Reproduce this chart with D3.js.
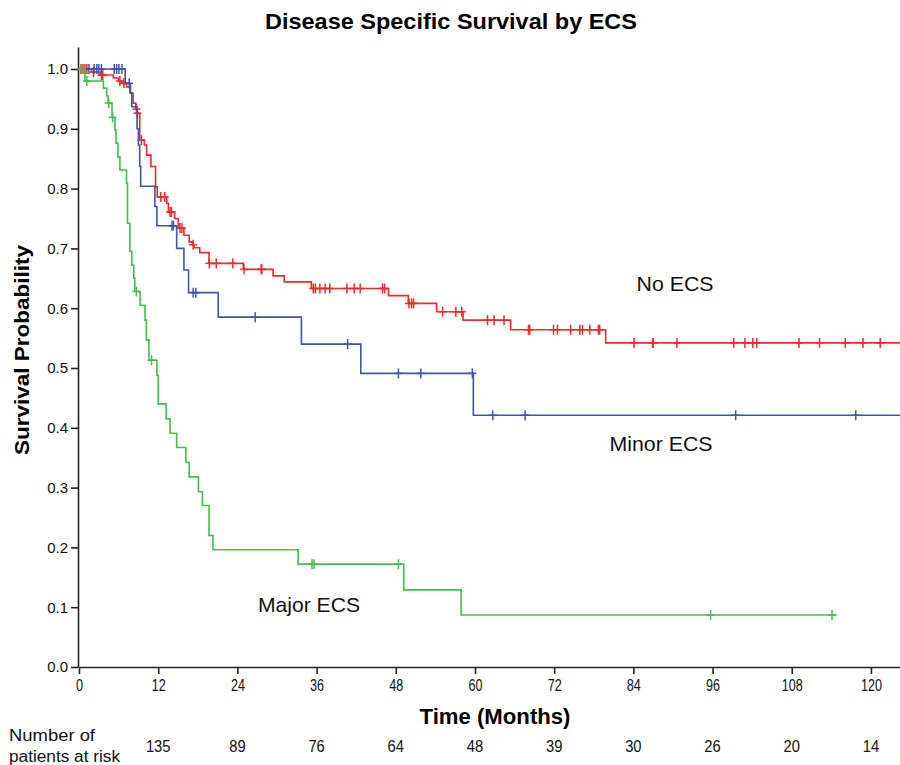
<!DOCTYPE html>
<html><head><meta charset="utf-8">
<script src="https://cdn.jsdelivr.net/npm/d3@7"></script>
<style>body{margin:0;background:#fff}</style>
</head><body><svg id="c" width="900" height="765"></svg>
<script>
const title = "Disease Specific Survival by ECS";
const xTicks = [0,12,24,36,48,60,72,84,96,108,120];
const yTicks = [0,0.1,0.2,0.3,0.4,0.5,0.6,0.7,0.8,0.9,1.0];
const riskTimes = [12,24,36,48,60,72,84,96,108,120];
const atRisk = [135,89,76,64,48,39,30,26,20,14];
const groupNames = ["No ECS","Minor ECS","Major ECS"];

// [time, survival after the event]
const noEcsSteps = [[0,1],[1.9,0.995],[3.3,0.99],[5.2,0.985],[6.0,0.98],[6.5,0.976],[7.2,0.97],[7.7,0.96],[8.2,0.943],[8.6,0.933],[8.8,0.926],[9.2,0.881],[9.9,0.873],[10.25,0.856],[10.9,0.837],[11.6,0.803],[11.85,0.786],[13.3,0.775],[13.55,0.761],[14.5,0.75],[15.05,0.734],[15.9,0.722],[16.7,0.711],[17.2,0.706],[17.4,0.701],[18.3,0.693],[19.7,0.675],[24.9,0.665],[29.4,0.654],[31.1,0.644],[35.2,0.633],[46.9,0.621],[49.9,0.608],[54.2,0.594],[58.2,0.58],[65.4,0.564],[79.8,0.542]];
const noEcsCensor = [0.3,0.6,0.9,1.2,2.2,3.4,3.6,6.2,6.8,8.7,8.85,9.45,12.4,13.0,13.8,14.0,15.3,15.6,17.3,19.75,20.8,23.3,25.0,27.6,27.7,35.5,35.8,36.5,37.3,38.0,40.6,41.7,42.6,46.0,46.3,50.0,50.4,50.7,55.1,57.1,58.0,61.9,62.9,64.4,68.1,68.3,71.9,72.5,74.5,75.9,76.3,77.4,78.7,78.9,84.1,86.9,87.0,90.6,99.2,100.9,102.1,102.7,109.1,112.2,116.1,118.8,121.4];
const noEcsEnd = 124.4;

const minorSteps = [[0,1],[7.0,0.976],[7.8,0.96],[8.0,0.937],[8.8,0.9],[9.0,0.873],[9.2,0.837],[9.35,0.804],[11.5,0.77],[11.8,0.738],[14.8,0.70],[15.9,0.664],[16.6,0.626],[21.1,0.585],[33.7,0.54],[42.7,0.491],[59.75,0.421]];
const minorCensor = [1.5,2.3,2.7,3.0,3.4,5.35,5.7,6.05,6.5,7.6,14.1,14.3,17.3,17.7,26.7,40.7,48.4,51.8,59.6,62.7,67.6,99.5,117.7];
const minorEnd = 124.4;

const majorSteps = [[0,1],[0.9,0.98],[3.7,0.968],[4.2,0.955],[4.4,0.943],[5.0,0.919],[5.45,0.898],[5.6,0.876],[5.9,0.853],[6.2,0.831],[7.2,0.809],[7.35,0.742],[7.7,0.695],[8.0,0.672],[8.3,0.65],[8.45,0.628],[9.25,0.605],[10.0,0.58],[10.2,0.547],[10.6,0.513],[11.8,0.488],[12.0,0.44],[13.2,0.415],[13.8,0.391],[14.8,0.367],[16.2,0.342],[16.7,0.318],[18.1,0.293],[18.7,0.27],[19.7,0.22],[20.3,0.196],[33.2,0.172],[49.2,0.129],[57.9,0.087]];
const majorCensor = [0.4,1.2,4.5,5.1,8.7,11.0,35.3,35.6,48.4,95.7,114.1];
const majorEnd = 114.8;

const colors = ["#f02a2a","#3d56a8","#3fc04f"];

const svg = d3.select("#c");
const x = d3.scaleLinear().domain([0,124.4]).range([79,900]);
const y = d3.scaleLinear().domain([0,1.0368]).range([667,47]);

const sans = "'Liberation Sans',Arial,sans-serif";

svg.append("text").attr("x",451).attr("y",29).attr("text-anchor","middle")
  .attr("font-family",sans).attr("font-weight","bold").attr("font-size",22)
  .attr("textLength",372).attr("lengthAdjust","spacingAndGlyphs").text(title);

const series = [
  {steps:noEcsSteps, censor:noEcsCensor, end:noEcsEnd, color:colors[0]},
  {steps:minorSteps, censor:minorCensor, end:minorEnd, color:colors[1]},
  {steps:majorSteps, censor:majorCensor, end:majorEnd, color:colors[2]}
];

function survAt(steps,t){let s=1;for(const [tt,v] of steps){if(tt<=t)s=v;}return s;}

const line = d3.line().x(d=>x(d[0])).y(d=>y(d[1])).curve(d3.curveStepAfter);

// axes
const xAxis = d3.axisBottom(x).tickValues(xTicks).tickSize(7).tickSizeOuter(0).tickFormat(d3.format("d"));
const gx = svg.append("g").attr("transform","translate(0,667)").call(xAxis);
gx.selectAll("text").attr("font-family",sans).attr("font-size",17).attr("fill","#111").attr("dy","0.85em")
  .attr("textLength",d=>String(d).length*7).attr("lengthAdjust","spacingAndGlyphs");
gx.select(".domain").attr("stroke","#222").attr("stroke-width",1.6);
gx.selectAll(".tick line").attr("stroke","#222").attr("stroke-width",1.6);

const yAxis = d3.axisLeft(y).tickValues(yTicks).tickSize(7).tickSizeOuter(0).tickFormat(d3.format(".1f"));
const gy = svg.append("g").attr("transform","translate(78,0)").call(yAxis);
gy.selectAll("text").attr("font-family",sans).attr("font-size",15).attr("fill","#111");
gy.select(".domain").attr("stroke","#222").attr("stroke-width",1.6);
gy.selectAll(".tick line").attr("stroke","#222").attr("stroke-width",1.6);

series.forEach(s=>{
  const pts = s.steps.concat([[s.end, s.steps[s.steps.length-1][1]]]);
  svg.append("path").attr("d",line(pts)).attr("fill","none").attr("stroke",s.color).attr("stroke-width",1.6);
  const g = svg.append("g").attr("stroke",s.color).attr("stroke-width",1.5);
  s.censor.forEach(t=>{
    const cx = x(t), cy = y(survAt(s.steps,t));
    g.append("line").attr("x1",cx).attr("x2",cx).attr("y1",cy-5).attr("y2",cy+5);
    g.append("line").attr("x1",cx-4).attr("x2",cx+4).attr("y1",cy).attr("y2",cy);
  });
});

// group labels
const lab = [
  {t:groupNames[0], x:675, y:291, w:77},
  {t:groupNames[1], x:661, y:451, w:103},
  {t:groupNames[2], x:309, y:612, w:102}
];
lab.forEach(l=>svg.append("text").attr("x",l.x).attr("y",l.y).attr("text-anchor","middle")
  .attr("font-family",sans).attr("font-size",21).attr("fill","#111")
  .attr("textLength",l.w).attr("lengthAdjust","spacingAndGlyphs").text(l.t));

// axis titles
svg.append("text").attr("transform","translate(29,350) rotate(-90)").attr("text-anchor","middle")
  .attr("font-family",sans).attr("font-weight","bold").attr("font-size",21)
  .attr("textLength",210).attr("lengthAdjust","spacingAndGlyphs").text("Survival Probability");
svg.append("text").attr("x",495).attr("y",724).attr("text-anchor","middle")
  .attr("font-family",sans).attr("font-weight","bold").attr("font-size",22)
  .attr("textLength",151).attr("lengthAdjust","spacingAndGlyphs").text("Time (Months)");

// at-risk table
svg.append("text").attr("x",9).attr("y",741).attr("font-family",sans).attr("font-size",16).attr("fill","#111")
  .attr("textLength",86).attr("lengthAdjust","spacingAndGlyphs").text("Number of");
svg.append("text").attr("x",9).attr("y",762).attr("font-family",sans).attr("font-size",16).attr("fill","#111")
  .attr("textLength",111).attr("lengthAdjust","spacingAndGlyphs").text("patients at risk");
svg.append("g").selectAll("text").data(riskTimes).join("text")
  .attr("x",d=>x(d)).attr("y",752).attr("text-anchor","middle")
  .attr("font-family",sans).attr("font-size",17).attr("fill","#111")
  .attr("textLength",(d,i)=>String(atRisk[i]).length*8.2).attr("lengthAdjust","spacingAndGlyphs")
  .text((d,i)=>atRisk[i]);
</script></body></html>
